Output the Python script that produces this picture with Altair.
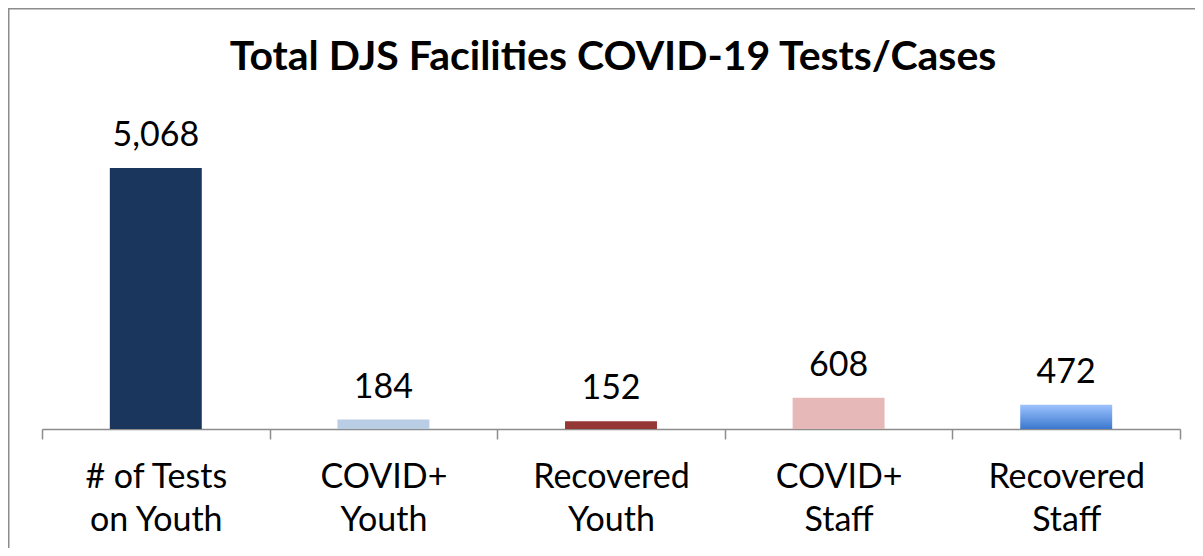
import altair as alt
import pandas as pd

title_text = "Total DJS Facilities COVID-19 Tests/Cases"
categories = ["# of Tests\non Youth", "COVID+\nYouth", "Recovered\nYouth", "COVID+\nStaff", "Recovered\nStaff"]
values = [5068, 184, 152, 608, 472]
colors = ["#1B365D", "#B9CDE5", "#953735", "#E6B9B8", "#6A9FE8"]

df = pd.DataFrame({"cat": categories, "val": values, "col": colors})

W, H = 1138, 309
PL, PT, PR, PB = 34, 112, 15, 119

x = alt.X("cat:N", sort=categories, title=None,
          scale=alt.Scale(paddingInner=0, paddingOuter=0),
          axis=alt.Axis(labelAngle=0, labelExpr="split(datum.label, '\\n')",
                        labelFont="Lato", labelFontSize=34, labelColor="#000000",
                        labelLineHeight=43, labelPadding=21, labelBaseline="top",
                        domainColor="#8C8C8C", domainWidth=1.5,
                        tickColor="#8C8C8C", tickWidth=1.5, tickSize=10,
                        tickBand="extent", labelFlush=False, grid=False))
y = alt.Y("val:Q", title=None, scale=alt.Scale(domain=[0, 6000], nice=False),
          axis=None)

base = alt.Chart(df)
bar_w = alt.RelativeBandSize(0.404)

bars = base.transform_filter(alt.datum.cat != categories[4]).mark_bar(width=bar_w).encode(
    x=x, y=y, color=alt.Color("col:N", scale=None)
)

grad_bar = base.transform_filter(alt.datum.cat == categories[4]).mark_bar(
    width=bar_w,
    color=alt.LinearGradient(
        gradient="linear", x1=0, y1=0, x2=0, y2=1,
        stops=[alt.GradientStop(color="#9DC3FF", offset=0),
               alt.GradientStop(color="#3B78CE", offset=1)])
).encode(x=x, y=y)

labels = base.mark_text(font="Lato", fontSize=34, color="#000000",
                        baseline="alphabetic", dy=-22).encode(
    x=x, y=y, text=alt.Text("val:Q", format=",")
)

title = base.transform_filter(alt.datum.cat == categories[0]).mark_text(
    font="Lato", fontSize=41, fontWeight="bold", color="#000000",
    baseline="alphabetic", align="center", clip=False
).encode(x=alt.value(W / 2 + 2), y=alt.value(70 - 8 - PT), text=alt.value(title_text))

border = base.transform_filter(alt.datum.cat == categories[0]).mark_rect(
    fill=None, stroke="#8C8C8C", strokeWidth=1.5, clip=False
).encode(x=alt.value(-PL + 0.75), x2=alt.value(W + PR + 20),
         y=alt.value(-PT + 0.75), y2=alt.value(H + PB + 20))

chart = alt.layer(border, bars, grad_bar, labels, title).properties(
    width=W, height=H,
    padding={"left": PL, "top": PT, "right": PR, "bottom": PB},
    autosize=alt.AutoSizeParams(type="none"),
    background="white",
).configure_view(stroke=None, strokeWidth=0)

chart.save("out.html", embed_options={"renderer": "svg", "actions": False})
